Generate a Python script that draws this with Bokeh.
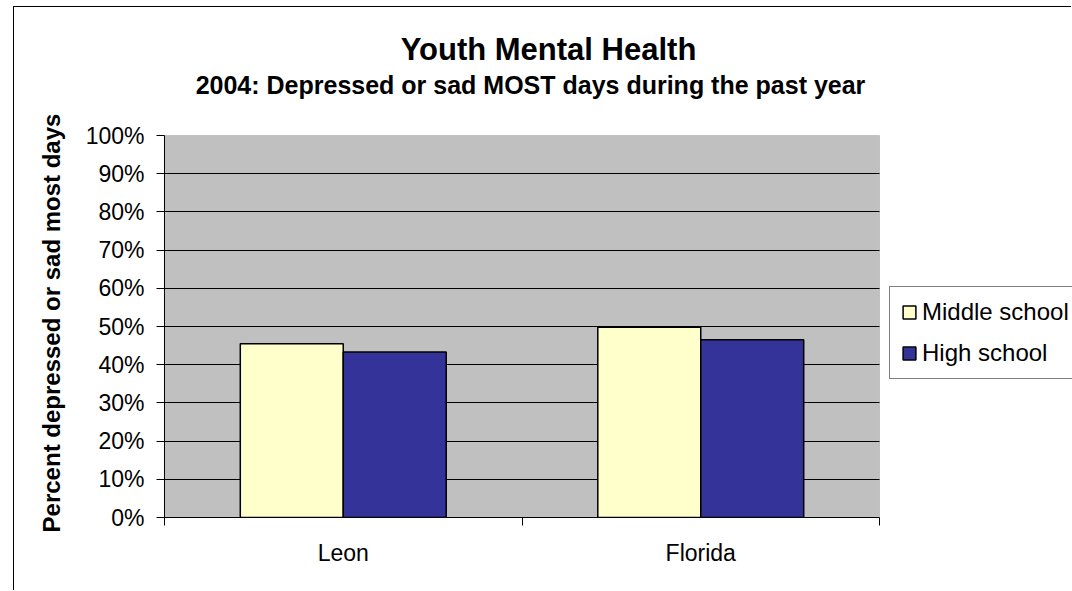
from bokeh.plotting import figure
from bokeh.models import (ColumnDataSource, FixedTicker, NumeralTickFormatter, Legend,
                          LegendItem, Label, Range1d, BoxAnnotation, Grid)
from bokeh.transform import dodge
from bokeh.embed import file_html
from bokeh.resources import INLINE

# ---- data ----
categories = ["Leon", "Florida"]
series_names = ["Middle school", "High school"]
middle_school = [0.455, 0.498]
high_school = [0.433, 0.465]
y_ticks = [0.0, 0.1, 0.2, 0.3, 0.4, 0.5, 0.6, 0.7, 0.8, 0.9, 1.0]
title_text = "Youth Mental Health"
subtitle_text = "2004: Depressed or sad MOST days during the past year"
y_label = "Percent depressed or sad most days"

colors = ["#FFFFCC", "#333399"]
FONT = "Liberation Sans"
bar_w = 0.288

# layout (pixels)
CANVAS_W, CANVAS_H = 1058, 584
LEFT, TOP, BOTTOM = 150, 21, 74
PLOT_W, PLOT_H = 715, 382          # size of the grey plot area
FRAME_W = CANVAS_W - LEFT          # frame also holds legend and title area
FRAME_H = CANVAS_H - TOP - BOTTOM
n_cat = len(categories)

x_center = [i + 0.5 for i in range(n_cat)]
source = ColumnDataSource(dict(x=x_center, ms=middle_school, hs=high_school))

p = figure(width=CANVAS_W, height=CANVAS_H, output_backend="svg", toolbar_location=None,
           x_range=Range1d(0, n_cat * FRAME_W / PLOT_W),
           y_range=Range1d(0, y_ticks[-1] * FRAME_H / PLOT_H),
           min_border_left=LEFT, min_border_right=0, min_border_top=TOP,
           min_border_bottom=BOTTOM, margin=(6, 0, 0, 13),
           styles={"border-left": "1px solid black", "border-top": "1px solid black"})
p.background_fill_color = "white"
p.border_fill_color = "white"
p.outline_line_color = None

# grey plot area
p.add_layout(BoxAnnotation(left=0, right=n_cat, bottom=y_ticks[0], top=y_ticks[-1],
                           fill_color="#C0C0C0", fill_alpha=1, line_color="#808080",
                           line_width=1, level="image"))

# horizontal gridlines limited to the plot area
p.xgrid.grid_line_color = None
if "cross_bounds" in Grid.properties():
    p.ygrid.ticker = FixedTicker(ticks=y_ticks[1:-1])
    p.ygrid.cross_bounds = (0, n_cat)
    p.ygrid.grid_line_color = "black"
    p.ygrid.grid_line_width = 1
else:
    p.ygrid.grid_line_color = None
    p.segment(x0=0, x1=n_cat, y0=y_ticks[1:-1], y1=y_ticks[1:-1],
              line_color="black", line_width=1)

r1 = p.vbar(x=dodge('x', -bar_w / 2, range=p.x_range), top='ms', width=bar_w, source=source,
            fill_color=colors[0], line_color="black", line_width=1.5)
r2 = p.vbar(x=dodge('x', bar_w / 2, range=p.x_range), top='hs', width=bar_w, source=source,
            fill_color=colors[1], line_color="black", line_width=1.5)

# y axis
yax = p.yaxis[0]
yax.bounds = (y_ticks[0], y_ticks[-1])
yax.ticker = FixedTicker(ticks=y_ticks)
yax.formatter = NumeralTickFormatter(format="0%")
yax.axis_line_color = "black"
yax.major_tick_line_color = "black"
yax.major_tick_out = 8
yax.major_tick_in = 0
yax.minor_tick_line_color = None
yax.major_label_text_font = FONT
yax.major_label_text_font_size = "23px"
yax.major_label_text_color = "black"
yax.major_label_standoff = 12
# the label is centred on the whole frame; invisible no-break spaces at its end
# shift the visible words down to the middle of the grey plot area
yax.axis_label = y_label + "\u00a0" * 15
yax.axis_label_text_font = FONT
yax.axis_label_text_font_style = "bold"
yax.axis_label_text_font_size = "24px"
yax.axis_label_text_color = "black"
yax.axis_label_standoff = 18

# x axis: labels at category centres, ticks at category boundaries
xax = p.xaxis[0]
xax.bounds = (0, n_cat)
xax.ticker = FixedTicker(ticks=x_center, minor_ticks=list(range(n_cat + 1)))
xax.major_label_overrides = {c: n for c, n in zip(x_center, categories)}
xax.axis_line_color = "black"
xax.major_tick_out = 0
xax.major_tick_in = 0
xax.minor_tick_out = 8
xax.minor_tick_in = 0
xax.minor_tick_line_color = "black"
xax.major_label_text_font = FONT
xax.major_label_text_font_size = "23px"
xax.major_label_text_color = "black"
xax.major_label_standoff = 14

# titles, placed in screen units from the frame's lower-left corner
p.add_layout(Label(x=384, y=468, x_units="screen", y_units="screen", text=title_text,
                   text_align="center", text_baseline="alphabetic", text_font=FONT,
                   text_font_style="bold", text_font_size="31px", text_color="black"))
p.add_layout(Label(x=366, y=433, x_units="screen", y_units="screen", text=subtitle_text,
                   text_align="center", text_baseline="alphabetic", text_font=FONT,
                   text_font_style="bold", text_font_size="25px", text_color="black"))

legend = Legend(items=[LegendItem(label=series_names[0], renderers=[r1]),
                       LegendItem(label=series_names[1], renderers=[r2])],
                location=(725, 138), orientation="vertical", margin=0,
                padding=11, spacing=13, label_height=18, glyph_height=16, glyph_width=16,
                label_standoff=5, label_text_font=FONT, label_text_font_size="24px",
                label_text_color="black", border_line_color="black", border_line_width=1,
                background_fill_color="white", background_fill_alpha=1)
p.add_layout(legend)

open("out.html", "w").write(file_html(p, INLINE))
